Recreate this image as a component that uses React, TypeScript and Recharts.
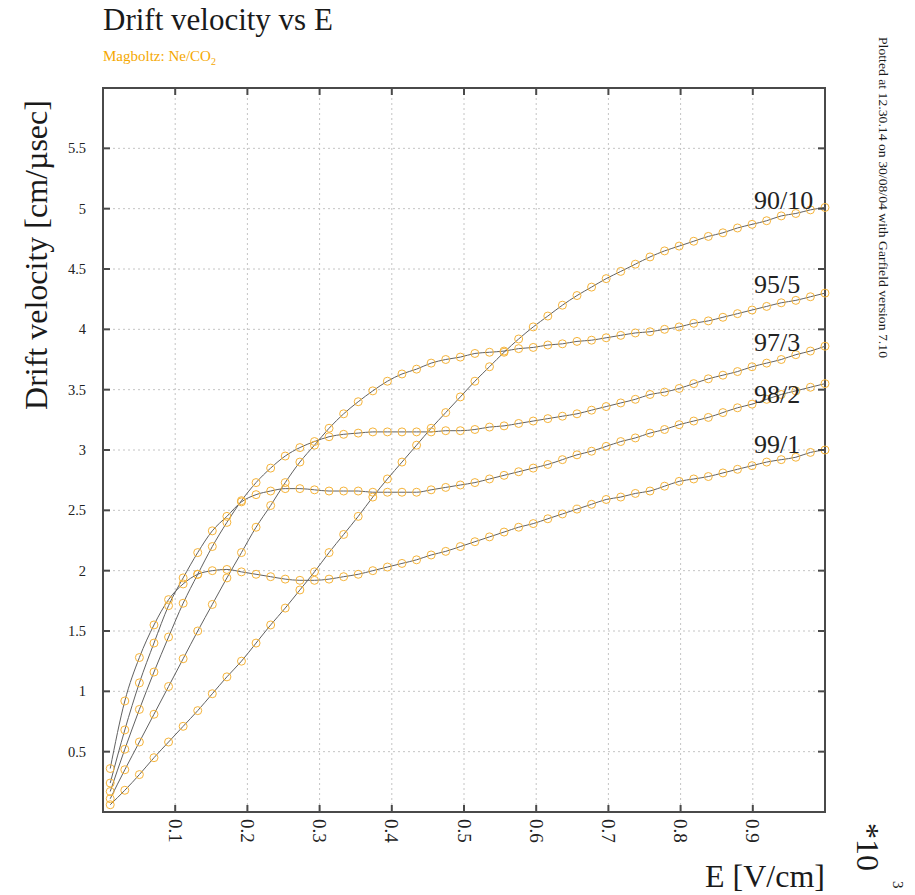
import React from 'react';
import { LineChart, Line, XAxis, YAxis, CartesianGrid, ReferenceArea, LabelList } from 'recharts';

// Electric field in kV/cm (axis is labelled V/cm with a *10^3 factor)
const E_KV = [
  0.0100, 0.0302, 0.0504, 0.0706, 0.0908, 0.1110, 0.1312, 0.1514, 0.1716, 0.1918,
  0.2120, 0.2322, 0.2524, 0.2727, 0.2929, 0.3131, 0.3333, 0.3535, 0.3737, 0.3939,
  0.4141, 0.4343, 0.4545, 0.4747, 0.4949, 0.5151, 0.5353, 0.5555, 0.5757, 0.5959,
  0.6161, 0.6363, 0.6565, 0.6767, 0.6969, 0.7171, 0.7373, 0.7576, 0.7778, 0.7980,
  0.8182, 0.8384, 0.8586, 0.8788, 0.8990, 0.9192, 0.9394, 0.9596, 0.9798, 1.0000,
];

// drift velocity in cm/usec, one list per Ne/CO2 mixture
const V_90_10 = [
  0.06, 0.18, 0.31, 0.45, 0.58, 0.71, 0.84, 0.98, 1.12, 1.25,
  1.40, 1.55, 1.69, 1.84, 1.99, 2.15, 2.30, 2.45, 2.61, 2.76,
  2.90, 3.04, 3.18, 3.31, 3.44, 3.57, 3.69, 3.81, 3.92, 4.02,
  4.11, 4.20, 4.28, 4.35, 4.42, 4.48, 4.54, 4.60, 4.65, 4.69,
  4.73, 4.77, 4.80, 4.84, 4.87, 4.90, 4.94, 4.96, 4.99, 5.01,
];
const V_95_5 = [
  0.11, 0.35, 0.58, 0.81, 1.04, 1.27, 1.50, 1.72, 1.94, 2.15,
  2.36, 2.54, 2.73, 2.90, 3.04, 3.18, 3.30, 3.40, 3.49, 3.57,
  3.63, 3.67, 3.72, 3.75, 3.77, 3.80, 3.81, 3.82, 3.84, 3.85,
  3.87, 3.88, 3.90, 3.91, 3.93, 3.95, 3.97, 3.98, 4.00, 4.02,
  4.05, 4.07, 4.10, 4.13, 4.16, 4.19, 4.22, 4.24, 4.27, 4.30,
];
const V_97_3 = [
  0.17, 0.52, 0.85, 1.16, 1.45, 1.73, 1.97, 2.20, 2.40, 2.58,
  2.73, 2.85, 2.95, 3.02, 3.07, 3.11, 3.13, 3.14, 3.15, 3.15,
  3.15, 3.15, 3.15, 3.16, 3.16, 3.17, 3.19, 3.20, 3.22, 3.24,
  3.26, 3.28, 3.30, 3.33, 3.36, 3.39, 3.42, 3.46, 3.48, 3.51,
  3.55, 3.59, 3.62, 3.65, 3.69, 3.72, 3.75, 3.79, 3.82, 3.86,
];
const V_98_2 = [
  0.24, 0.68, 1.07, 1.40, 1.71, 1.94, 2.15, 2.33, 2.45, 2.57,
  2.63, 2.66, 2.68, 2.68, 2.67, 2.66, 2.66, 2.66, 2.65, 2.65,
  2.65, 2.65, 2.67, 2.69, 2.71, 2.73, 2.76, 2.79, 2.82, 2.85,
  2.88, 2.92, 2.96, 2.99, 3.03, 3.07, 3.10, 3.14, 3.17, 3.21,
  3.24, 3.27, 3.31, 3.35, 3.38, 3.42, 3.46, 3.49, 3.52, 3.55,
];
const V_99_1 = [
  0.36, 0.92, 1.28, 1.55, 1.76, 1.89, 1.97, 2.00, 2.01, 1.99,
  1.97, 1.95, 1.93, 1.92, 1.92, 1.93, 1.95, 1.97, 2.00, 2.03,
  2.06, 2.09, 2.13, 2.16, 2.20, 2.24, 2.28, 2.32, 2.36, 2.39,
  2.43, 2.47, 2.51, 2.55, 2.59, 2.61, 2.64, 2.66, 2.70, 2.74,
  2.76, 2.78, 2.81, 2.84, 2.87, 2.90, 2.92, 2.94, 2.98, 3.00,
];

const MIXTURES = ['90/10', '95/5', '97/3', '98/2', '99/1'];
const SERIES = [V_90_10, V_95_5, V_97_3, V_98_2, V_99_1];
// baseline offset of each curve name relative to its last point
const NAME_DY = [2, 0, 5, 19, 3];

const X_TICKS = [0.1, 0.2, 0.3, 0.4, 0.5, 0.6, 0.7, 0.8, 0.9];
const Y_TICKS = [0.5, 1, 1.5, 2, 2.5, 3, 3.5, 4, 4.5, 5, 5.5];

const W = 915;
const H = 895;
const PLOT = { left: 103, top: 88, right: 825, bottom: 812 };
const TICK_LEN = 7;
const ORANGE = '#f5a800';
const MARKER = '#f6b43a';
const CURVE = '#616161';
const FRAME = '#4a4a4a';
const SERIF = '"Liberation Serif", "DejaVu Serif", serif';

const data = E_KV.map((e, i) => {
  const row: Record<string, number> = { e };
  MIXTURES.forEach((m, k) => {
    row[m] = SERIES[k][i];
  });
  return row;
});

const XTick = ({ x, y, payload }: any) => (
  <g>
    <line x1={x} y1={PLOT.bottom} x2={x} y2={PLOT.bottom - TICK_LEN} stroke={FRAME} strokeWidth={2} />
    <line x1={x} y1={PLOT.top} x2={x} y2={PLOT.top + TICK_LEN} stroke={FRAME} strokeWidth={2} />
    <text
      transform={`translate(${x - 6.5},${y + 7}) rotate(90)`}
      fontFamily={SERIF}
      fontSize={19}
      fill="#222"
    >
      {payload.value}
    </text>
  </g>
);

const YTick = ({ x, y, payload }: any) => (
  <g>
    <line x1={PLOT.left} y1={y} x2={PLOT.left + TICK_LEN} y2={y} stroke={FRAME} strokeWidth={2} />
    <line x1={PLOT.right} y1={y} x2={PLOT.right - TICK_LEN} y2={y} stroke={FRAME} strokeWidth={2} />
    <text x={86} y={y + 5} textAnchor="end" fontFamily={SERIF} fontSize={14.5} fill="#222">
      {payload.value}
    </text>
  </g>
);

const nameLabel = (k: number) => (props: any) => {
  const { x, y, index } = props;
  if (index !== E_KV.length - 1) return null;
  return (
    <text x={x - 71} y={y + NAME_DY[k]} fontFamily={SERIF} fontSize={26} fill="#222">
      {MIXTURES[k]}
    </text>
  );
};

export default function App() {
  return (
    <div style={{ position: 'absolute', left: 0, top: 0, width: W, height: H, background: '#fff' }}>
      <LineChart
        width={W}
        height={H}
        data={data}
        margin={{ top: PLOT.top, right: W - PLOT.right, bottom: 0, left: 0 }}
      >
        <CartesianGrid stroke="#c4c4c4" strokeDasharray="2 3" />
        <XAxis
          dataKey="e"
          type="number"
          domain={[0, 1]}
          ticks={X_TICKS}
          interval={0}
          height={H - PLOT.bottom}
          axisLine={false}
          tickLine={false}
          tickSize={0}
          tickMargin={0}
          tick={<XTick />}
        />
        <YAxis
          type="number"
          domain={[0, 6]}
          ticks={Y_TICKS}
          interval={0}
          width={PLOT.left}
          axisLine={false}
          tickLine={false}
          tickSize={0}
          tickMargin={0}
          tick={<YTick />}
        />
        <ReferenceArea x1={0} x2={1} y1={0} y2={6} fill="none" stroke={FRAME} strokeWidth={2} />
        {MIXTURES.map((m, k) => (
          <Line
            key={m}
            dataKey={m}
            type="monotone"
            stroke={CURVE}
            strokeWidth={1}
            dot={{ r: 4, stroke: MARKER, strokeWidth: 1, fill: 'none' }}
            activeDot={false}
            isAnimationActive={false}
          >
            <LabelList dataKey={m} content={nameLabel(k)} />
          </Line>
        ))}
      </LineChart>

      <svg
        width={W}
        height={H}
        style={{ position: 'absolute', left: 0, top: 0, pointerEvents: 'none' }}
      >
        <text x={103} y={30} fontFamily={SERIF} fontSize={31} fill="#1a1a1a">
          Drift velocity vs E
        </text>
        <text x={103} y={61} fontFamily={SERIF} fontSize={15} fill={ORANGE}>
          Magboltz: Ne/CO
          <tspan fontSize={10} dy={4}>2</tspan>
        </text>
        <text
          transform="translate(47,255) rotate(-90)"
          textAnchor="middle"
          fontFamily={SERIF}
          fontSize={32}
          fill="#1a1a1a"
        >
          Drift velocity [cm/µsec]
        </text>
        <text x={825} y={887} textAnchor="end" fontFamily={SERIF} fontSize={32} fill="#1a1a1a">
          E [V/cm]
        </text>
        <text transform="translate(857,823) rotate(90)" fontFamily={SERIF} fontSize={32} fill="#1a1a1a">
          *10
        </text>
        <text transform="translate(893,881) rotate(90)" fontFamily={SERIF} fontSize={15} fill="#1a1a1a">
          3
        </text>
        <text
          transform="translate(879,37) rotate(90)"
          fontFamily={SERIF}
          fontSize={12}
          textLength={321}
          lengthAdjust="spacingAndGlyphs"
          fill="#1a1a1a"
        >
          Plotted at 12.30.14 on 30/08/04 with Garfield version 7.10
        </text>
      </svg>
    </div>
  );
}
